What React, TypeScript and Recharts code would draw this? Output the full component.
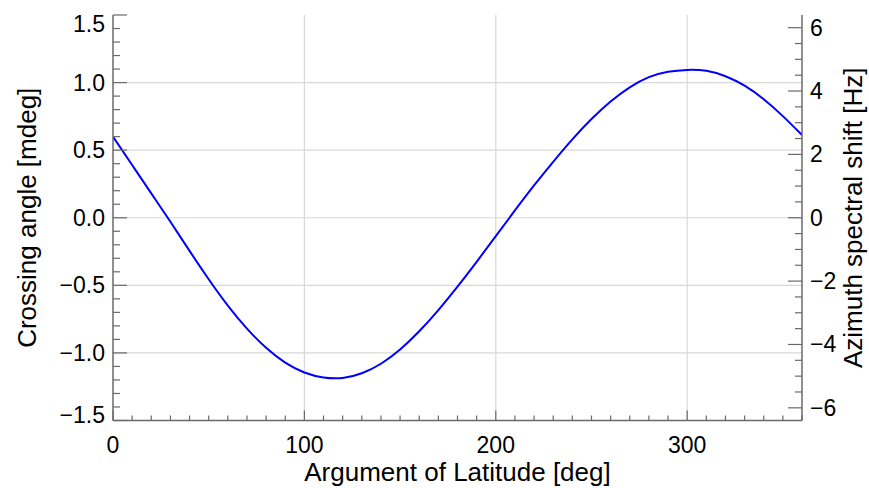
import { LineChart, Line, XAxis, YAxis, ReferenceLine, Label } from 'recharts'

// argument of latitude [deg] and crossing angle [mdeg]
const degrees = [
  0, 10, 20, 30, 40, 50, 60, 70, 80, 90, 100, 110, 120, 130, 140, 150, 160, 170, 180,
  190, 200, 210, 220, 230, 240, 250, 260, 270, 280, 290, 300, 310, 320, 330, 340, 350, 360,
]
const crossingAngle = [
  0.6, 0.39, 0.18, -0.03, -0.245, -0.455, -0.65, -0.82, -0.962, -1.072, -1.145, -1.182, -1.185,
  -1.15, -1.08, -0.975, -0.84, -0.683, -0.51, -0.326, -0.136, 0.054, 0.239, 0.414, 0.58, 0.73,
  0.86, 0.965, 1.04, 1.08, 1.094, 1.087, 1.047, 0.977, 0.877, 0.752, 0.612,
]

const xMajorTicks = [0, 100, 200, 300]
const leftMajorTicks = [-1.5, -1.0, -0.5, 0, 0.5, 1.0, 1.5]
const rightMajorTicks = [-6, -4, -2, 0, 2, 4, 6]
const xGridLines = [100, 200, 300]
const yGridLines = [-1.0, -0.5, 0, 0.5, 1.0]

const xMinorTicks = Array.from({ length: 37 }, (_, i) => i * 10)
const leftMinorTicks = Array.from({ length: 31 }, (_, i) => (i - 15) / 10)
const rightMinorTicks = Array.from({ length: 25 }, (_, i) => (i - 12) / 2)

const data = degrees.map((deg, i) => ({ deg, angle: crossingAngle[i] }))

const FONT = '"Liberation Sans", Arial, Helvetica, sans-serif'
const FRAME = '#6a6a6a'
const GRID = '#d8d8d8'
const FS = 23
const TITLE_FS = 26

const isIn = (list: number[], v: number) => list.some((m) => Math.abs(m - v) < 1e-6)
const minus = (s: string) => s.replace('-', '\u2212')

function BottomTick({ x, y, payload }: any) {
  const v = payload.value
  const major = isIn(xMajorTicks, v)
  return (
    <g>
      <line x1={x} y1={y} x2={x} y2={y - (major ? 10 : 5)} stroke={FRAME} strokeWidth={1.2} />
      {major && (
        <text x={x} y={y + 32} textAnchor="middle" fontSize={FS} fontFamily={FONT} fill="#000">
          {v}
        </text>
      )}
    </g>
  )
}

function TopTick({ x, y, payload }: any) {
  const major = isIn(xMajorTicks, payload.value)
  return <line x1={x} y1={y} x2={x} y2={y + (major ? 10 : 5)} stroke={FRAME} strokeWidth={1.2} />
}

function LeftTick({ x, y, payload }: any) {
  const v = payload.value
  const major = isIn(leftMajorTicks, v)
  const shift = v > 1.49 ? 9 : v < -1.49 ? -6 : 0
  return (
    <g>
      <line x1={x} y1={y} x2={x + (major ? 14 : 7)} y2={y} stroke={FRAME} strokeWidth={1.2} />
      {major && (
        <text x={x - 8} y={y + 8 + shift} textAnchor="end" fontSize={FS} fontFamily={FONT} fill="#000">
          {minus(v.toFixed(1))}
        </text>
      )}
    </g>
  )
}

function RightTick({ x, y, payload }: any) {
  const v = payload.value
  const major = isIn(rightMajorTicks, v)
  return (
    <g>
      <line x1={x} y1={y} x2={x - (major ? 14 : 7)} y2={y} stroke={FRAME} strokeWidth={1.2} />
      {major && (
        <text x={x + 8} y={y + 8} textAnchor="start" fontSize={FS} fontFamily={FONT} fill="#000">
          {minus(String(v))}
        </text>
      )}
    </g>
  )
}

export default function App() {
  return (
    <div style={{ position: 'absolute', left: 0, top: 0, background: '#fff' }}>
      <LineChart width={869} height={488} data={data} margin={{ top: 15, right: 0, bottom: 0, left: 0 }}>
        <XAxis
          xAxisId="b"
          dataKey="deg"
          type="number"
          domain={[0, 360]}
          allowDataOverflow
          ticks={xMinorTicks}
          interval={0}
          tickSize={0}
          tickMargin={0}
          tickLine={false}
          tick={(p: any) => <BottomTick {...p} />}
          axisLine={{ stroke: FRAME, strokeWidth: 1.5 }}
          height={67.5}
        >
          <Label
            content={(p: any) => {
              const vb = p.viewBox
              return (
                <text x={vb.x + vb.width / 2} y={vb.y + 60.5} textAnchor="middle" fontSize={TITLE_FS} fontFamily={FONT} fill="#000">
                  Argument of Latitude [deg]
                </text>
              )
            }}
          />
        </XAxis>
        <XAxis
          xAxisId="t"
          type="number"
          orientation="top"
          domain={[0, 360]}
          allowDataOverflow
          ticks={xMinorTicks}
          interval={0}
          tickSize={0}
          tickMargin={0}
          tickLine={false}
          tick={(p: any) => <TopTick {...p} />}
          axisLine={{ stroke: FRAME, strokeWidth: 1.5 }}
          height={0}
        />
        <YAxis
          yAxisId="l"
          type="number"
          domain={[-1.5, 1.5]}
          allowDataOverflow
          ticks={leftMinorTicks}
          interval={0}
          tickSize={0}
          tickMargin={0}
          tickLine={false}
          tick={(p: any) => <LeftTick {...p} />}
          axisLine={{ stroke: FRAME, strokeWidth: 1.5 }}
          width={113}
        >
          <Label
            content={(p: any) => {
              const vb = p.viewBox
              const cx = vb.x + 36
              const cy = vb.y + vb.height / 2
              return (
                <text x={cx} y={cy} transform={`rotate(-90 ${cx} ${cy})`} textAnchor="middle" fontSize={TITLE_FS} fontFamily={FONT} fill="#000">
                  Crossing angle [mdeg]
                </text>
              )
            }}
          />
        </YAxis>
        <YAxis
          yAxisId="r"
          type="number"
          orientation="right"
          domain={[-6.4, 6.4]}
          allowDataOverflow
          ticks={rightMinorTicks}
          interval={0}
          tickSize={0}
          tickMargin={0}
          tickLine={false}
          tick={(p: any) => <RightTick {...p} />}
          axisLine={{ stroke: FRAME, strokeWidth: 1.5 }}
          width={67}
        >
          <Label
            content={(p: any) => {
              const vb = p.viewBox
              const cx = vb.x + 60
              const cy = vb.y + vb.height / 2
              return (
                <text x={cx} y={cy} transform={`rotate(-90 ${cx} ${cy})`} textAnchor="middle" fontSize={TITLE_FS} fontFamily={FONT} fill="#000">
                  Azimuth spectral shift [Hz]
                </text>
              )
            }}
          />
        </YAxis>
        {xGridLines.map((v) => (
          <ReferenceLine key={'x' + v} xAxisId="b" yAxisId="l" x={v} stroke={GRID} strokeWidth={1.2} />
        ))}
        {yGridLines.map((v) => (
          <ReferenceLine key={'y' + v} xAxisId="b" yAxisId="l" y={v} stroke={GRID} strokeWidth={1.2} />
        ))}
        <Line
          xAxisId="b"
          yAxisId="l"
          dataKey="angle"
          type="natural"
          stroke="#0000ff"
          strokeWidth={2}
          dot={false}
          activeDot={false}
          isAnimationActive={false}
        />
      </LineChart>
    </div>
  )
}
